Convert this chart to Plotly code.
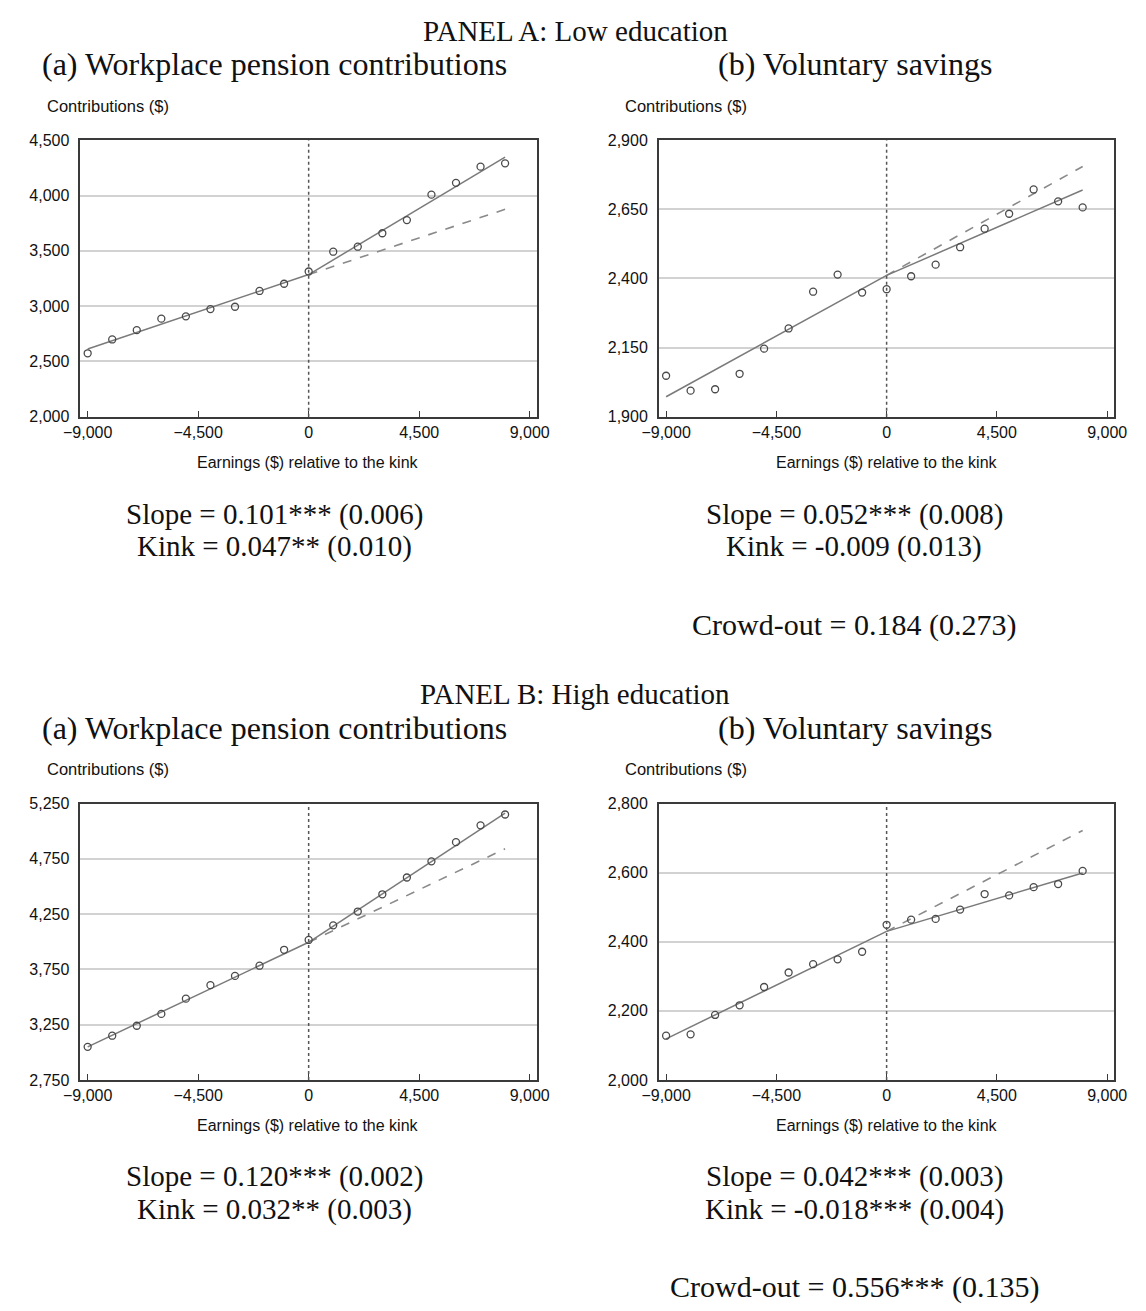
import plotly.graph_objects as go

W, H = 1146, 1311

# ---------------- data ----------------
earnings_bins = [-9000, -8000, -7000, -6000, -5000, -4000, -3000, -2000, -1000,
                 0, 1000, 2000, 3000, 4000, 5000, 6000, 7000, 8000]

# Panel A (low education)
a_pension = [2573, 2698, 2782, 2886, 2907, 2973, 2994, 3137, 3202,
             3313, 3492, 3537, 3659, 3778, 4008, 4115, 4261, 4291]
a_savings = [2048, 1994, 1999, 2055, 2146, 2219, 2352, 2414, 2349,
             2361, 2408, 2450, 2513, 2580, 2634, 2722, 2679, 2657]
# Panel B (high education)
b_pension = [3049, 3150, 3240, 3347, 3485, 3607, 3691, 3783, 3927,
             4016, 4148, 4273, 4429, 4581, 4727, 4901, 5053, 5151]
b_savings = [2128, 2132, 2188, 2216, 2269, 2311, 2335, 2349, 2371,
             2449, 2464, 2466, 2493, 2538, 2534, 2558, 2567, 2605]

# fitted lines: x endpoints and y values (left fit, right fit, counterfactual)
fit_left_x = [-9000, 0]
fit_right_x = [0, 8000]
a_pension_fit_left = [2612, 3285]
a_pension_fit_right = [3285, 4348]
a_pension_cf = [3285, 3875]
a_savings_fit_left = [1972, 2411]
a_savings_fit_right = [2411, 2720]
a_savings_cf = [2411, 2805]
b_pension_fit_left = [3049, 3995]
b_pension_fit_right = [3995, 5163]
b_pension_cf = [3995, 4841]
b_savings_fit_left = [2119, 2430]
b_savings_fit_right = [2430, 2599]
b_savings_cf = [2430, 2722]

x_ticks = [-9000, -4500, 0, 4500, 9000]
a_pension_yticks = [2000, 2500, 3000, 3500, 4000, 4500]
a_savings_yticks = [1900, 2150, 2400, 2650, 2900]
b_pension_yticks = [2750, 3250, 3750, 4250, 4750, 5250]
b_savings_yticks = [2000, 2200, 2400, 2600, 2800]

panel_titles = ["PANEL A: Low education", "PANEL B: High education"]
sub_titles = ["(a) Workplace pension contributions", "(b) Voluntary savings"]
y_label = "Contributions ($)"
x_label = "Earnings ($) relative to the kink"
stats = {
    "A_left": ["Slope = 0.101*** (0.006)", "Kink = 0.047** (0.010)"],
    "A_right": ["Slope = 0.052*** (0.008)", "Kink = -0.009 (0.013)"],
    "A_crowd": "Crowd-out = 0.184 (0.273)",
    "B_left": ["Slope = 0.120*** (0.002)", "Kink = 0.032** (0.003)"],
    "B_right": ["Slope = 0.042*** (0.003)", "Kink = -0.018*** (0.004)"],
    "B_crowd": "Crowd-out = 0.556*** (0.135)",
}

# ---------------- layout helpers ----------------
def px(x):
    return x / W

def py(y):
    return 1 - y / H

SERIF = "Liberation Serif, Times New Roman, serif"
SANS = "Liberation Sans, Arial, sans-serif"

LEFT_DOM = [px(65), px(534)]
RIGHT_DOM = [px(659), px(1127)]
A_DOM = [py(414), py(134)]
B_DOM = [py(1086), py(806)]

FRAME = "#3a3a3a"
GRID = "#d2d2d2"
MARK = "#4a4a4a"
LINE = "#7a7a7a"

panels = [
    (1, LEFT_DOM, A_DOM, a_pension, a_pension_fit_left, a_pension_fit_right, a_pension_cf, a_pension_yticks),
    (2, RIGHT_DOM, A_DOM, a_savings, a_savings_fit_left, a_savings_fit_right, a_savings_cf, a_savings_yticks),
    (3, LEFT_DOM, B_DOM, b_pension, b_pension_fit_left, b_pension_fit_right, b_pension_cf, b_pension_yticks),
    (4, RIGHT_DOM, B_DOM, b_savings, b_savings_fit_left, b_savings_fit_right, b_savings_cf, b_savings_yticks),
]

fig = go.Figure()
layout_axes = {}
shapes = []

for i, xdom, ydom, pts, fl, fr, cf, yt in panels:
    xa = "x" if i == 1 else f"x{i}"
    ya = "y" if i == 1 else f"y{i}"
    fig.add_trace(go.Scatter(x=fit_right_x, y=cf, mode="lines", xaxis=xa, yaxis=ya,
                             line=dict(color="#8a8a8a", width=1.6, dash="dash"),
                             showlegend=False, hoverinfo="skip"))
    fig.add_trace(go.Scatter(x=fit_left_x, y=fl, mode="lines", xaxis=xa, yaxis=ya,
                             line=dict(color=LINE, width=1.5), showlegend=False, hoverinfo="skip"))
    fig.add_trace(go.Scatter(x=fit_right_x, y=fr, mode="lines", xaxis=xa, yaxis=ya,
                             line=dict(color=LINE, width=1.5), showlegend=False, hoverinfo="skip"))
    fig.add_trace(go.Scatter(x=earnings_bins, y=pts, mode="markers", xaxis=xa, yaxis=ya,
                             marker=dict(symbol="circle-open", size=7, color=MARK,
                                         line=dict(width=1.3, color=MARK)),
                             showlegend=False))
    xkey = "xaxis" if i == 1 else f"xaxis{i}"
    ykey = "yaxis" if i == 1 else f"yaxis{i}"
    layout_axes[xkey] = dict(
        domain=xdom, anchor=ya, range=[-9300, 9300], tickvals=x_ticks, tickformat=",d",
        showgrid=False, zeroline=False, showline=True, mirror=True, linecolor=FRAME, linewidth=1.5,
        ticks="inside", ticklen=6, tickwidth=1.2, tickcolor=FRAME,
        tickfont=dict(family=SANS, size=16, color="#111"),
    )
    layout_axes[ykey] = dict(
        domain=ydom, anchor=xa, range=[yt[0], yt[-1]], tickvals=yt, tickformat=",d",
        showgrid=True, gridcolor=GRID, gridwidth=1.5, zeroline=False,
        showline=True, mirror=True, linecolor=FRAME, linewidth=1.5, ticks="",
        ticklabelstandoff=6, tickfont=dict(family=SANS, size=16, color="#111"),
    )
    shapes.append(dict(type="line", xref=xa, yref=f"{ya} domain", x0=0, x1=0, y0=0, y1=1,
                       line=dict(color="#555", width=1.5, dash="dot"), layer="above"))

annotations = []

def text(x, y, s, font, size, anchor="center"):
    annotations.append(dict(x=px(x), y=py(y), xref="paper", yref="paper", text=s, showarrow=False,
                            xanchor=anchor, yanchor="middle",
                            font=dict(family=font, size=size, color="#111")))

for k, off in enumerate([0, 672]):
    text(573, 23 + off, panel_titles[k], SERIF, 29)
    text(264, 57 + off, sub_titles[0], SERIF, 32)
    text(861, 57 + off, sub_titles[1], SERIF, 32)
    text(29, 99 + off, y_label, SANS, 16.5, anchor="left")
    text(622, 99 + off, y_label, SANS, 16.5, anchor="left")
    text(299, 460 + off, x_label, SANS, 16)
    text(893, 460 + off, x_label, SANS, 16)

for key, off, cx in [("A_left", 0, 264), ("A_right", 0, 860), ("B_left", 671, 264), ("B_right", 671, 860)]:
    text(cx, 513 + off, stats[key][0], SERIF, 29)
    text(cx, 546 + off, stats[key][1], SERIF, 29)
text(860, 625, stats["A_crowd"], SERIF, 30)
text(860, 1296, stats["B_crowd"], SERIF, 30)

fig.update_layout(
    width=W, height=H, margin=dict(l=0, r=0, t=0, b=0),
    paper_bgcolor="white", plot_bgcolor="white",
    shapes=shapes, annotations=annotations, showlegend=False,
    **layout_axes,
)

fig.write_html("out.html", config={"displayModeBar": False},
               post_script="document.body.style.margin='0px';")
